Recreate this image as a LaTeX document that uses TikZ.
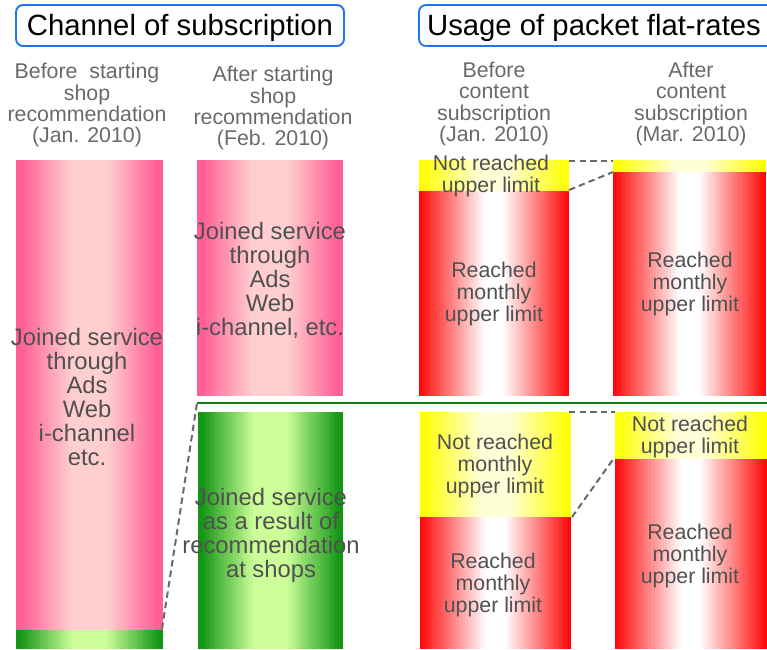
\documentclass[tikz,border=0pt]{standalone}
\usepackage{fontspec}
\setmainfont{Liberation Sans}
\definecolor{pinkE}{RGB}{255,95,150}
\definecolor{pinkC}{RGB}{255,206,206}
\definecolor{redE}{RGB}{255,10,10}
\definecolor{yelE}{RGB}{255,255,0}
\definecolor{yelC}{RGB}{255,255,215}
\definecolor{grnE}{RGB}{20,150,20}
\definecolor{grnC}{RGB}{204,255,153}
\definecolor{boxblue}{RGB}{30,115,240}
\definecolor{txtgray}{RGB}{80,80,80}
\definecolor{capgray}{RGB}{105,105,105}
\definecolor{dashgray}{RGB}{105,105,105}
% bar from (x1,y1) to (x2,y2) in thin strips: edge colour, centre colour, edge part, plateau (of half width)
\newcommand{\gradbar}[8]{%
  \foreach \k in {0,...,49}{
    \pgfmathsetmacro\gbarX{#1+\k*(#3-#1)/50}
    \pgfmathsetmacro\gbarY{min(#3,#1+(\k+1)*(#3-#1)/50+0.5)}
    \pgfmathsetmacro\gbarD{abs((\k+0.5)/50-0.5)*2}
    \pgfmathsetmacro\gbarP{100*min(1,max(0,(1-#7-\gbarD)/(1-#7-#8)))}
    \fill[#6!\gbarP!#5] (\gbarX,#2) rectangle (\gbarY,#4);
  }%
}
\tikzset{
  titlebox/.style={draw=boxblue, line width=1.6pt, rounded corners=6pt},
  titletext/.style={font=\fontsize{25}{30}\selectfont, text=black, inner sep=0pt},
  captext/.style={font=\fontsize{18.2}{18.2}\selectfont, text=capgray, align=center, inner sep=0pt},
  bartext/.style={font=\fontsize{20.3}{20.5}\selectfont, text=txtgray, align=center, inner sep=0pt},
  smalltext/.style={font=\fontsize{18.2}{18.8}\selectfont, text=txtgray, align=center, inner sep=0pt},
  linkdash/.style={draw=dashgray, line width=1.7pt, dash pattern=on 5.5pt off 3.5pt},
}

\begin{document}
\begin{tikzpicture}[x=0.03cm, y=-0.03cm]
		%%%%% START %%%%%
		\useasboundingbox (0, 0) rectangle (767, 649);
		
		% titles
		\draw[titlebox] (16, 5) rectangle (344, 46);
		\node[titletext, anchor=base] (chtitle) at (180, 36) {Channel of subscription};
		\draw[titlebox] (419, 5) rectangle (790, 46);
		\node[titletext, anchor=base] (pktitle) at (594, 36) {Usage of packet flat-rates};
		
		% column captions
		\node[captext, anchor=north] (cap1) at (87, 63) {Before\ \ starting\\shop\\recommendation\\(Jan. 2010)};
		\node[captext, anchor=north] (cap2) at (273, 66) {After starting\\shop\\recommendation\\(Feb. 2010)};
		\node[captext, anchor=north] (cap3) at (494, 62) {Before\\content\\subscription\\(Jan. 2010)};
		\node[captext, anchor=north] (cap4) at (691, 62) {After\\content\\subscription\\(Mar. 2010)};
		
		% channel bars
		\gradbar{16}{160}{163}{630}{pinkE}{pinkC}{0.08}{0.25}
		\gradbar{16}{630}{163}{649}{grnE}{grnC}{0.05}{0.22}
		\gradbar{197}{160}{343}{396}{pinkE}{pinkC}{0.08}{0.25}
		\gradbar{198}{412}{343}{649}{grnE}{grnC}{0.05}{0.22}
		
		\node[bartext] (old1) at (87, 397) {Joined service\\through\\Ads\\Web\\i-channel\\etc.};
		\node[bartext] (old2) at (270, 280) {Joined service\\through\\Ads\\Web\\i-channel, etc.};
		\node[bartext] (shop2) at (271, 535) {Joined service\\as a result of\\recommendation\\at shops};
		
		% flat-rate bars
		\gradbar{419}{160}{569}{191}{yelE}{yelC}{0.02}{0.18}
		\gradbar{419}{191}{569}{396}{redE}{white}{0.02}{0.12}
		\gradbar{613}{160}{766}{172}{yelE}{yelC}{0.02}{0.18}
		\gradbar{613}{172}{766}{396}{redE}{white}{0.02}{0.12}
		\gradbar{420}{412}{571}{517}{yelE}{yelC}{0.02}{0.18}
		\gradbar{420}{517}{571}{649}{redE}{white}{0.02}{0.12}
		\gradbar{615}{412}{767}{459}{yelE}{yelC}{0.02}{0.18}
		\gradbar{615}{459}{767}{649}{redE}{white}{0.02}{0.12}
		
		\node[smalltext] (nr1) at (491, 176) {Not reached\\upper limit};
		\node[smalltext] (r1) at (494, 294) {Reached\\monthly\\upper limit};
		\node[smalltext] (r2) at (690, 284) {Reached\\monthly\\upper limit};
		\node[smalltext] (nr3) at (495, 466) {Not reached\\monthly\\upper limit};
		\node[smalltext] (r3) at (493, 585) {Reached\\monthly\\upper limit};
		\node[smalltext] (nr4) at (690, 437) {Not reached\\upper limit};
		\node[smalltext] (r4) at (690, 556) {Reached\\monthly\\upper limit};
		
		% divider
		\draw[line width=2.4pt, color=grnE!85!black] (197, 403) -- (767, 403);
		
		% links
		\coordinate (g1) at (162, 629);
		\coordinate (g2) at (197, 403);
		\coordinate (a1) at (569, 161);
		\coordinate (a2) at (613, 161);
		\coordinate (b1) at (569, 190);
		\coordinate (b2) at (613, 172);
		\coordinate (c1) at (569, 412);
		\coordinate (c2) at (615, 412);
		\coordinate (d1) at (572, 517);
		\coordinate (d2) at (614, 458);
		\draw[linkdash] (g1) -- (g2);
		\draw[linkdash] (a1) -- (a2);
		\draw[linkdash] (b1) -- (b2);
		\draw[linkdash] (c1) -- (c2);
		\draw[linkdash] (d1) -- (d2);
		
		%%%%% END %%%%%
	\end{tikzpicture}
\end{document}
